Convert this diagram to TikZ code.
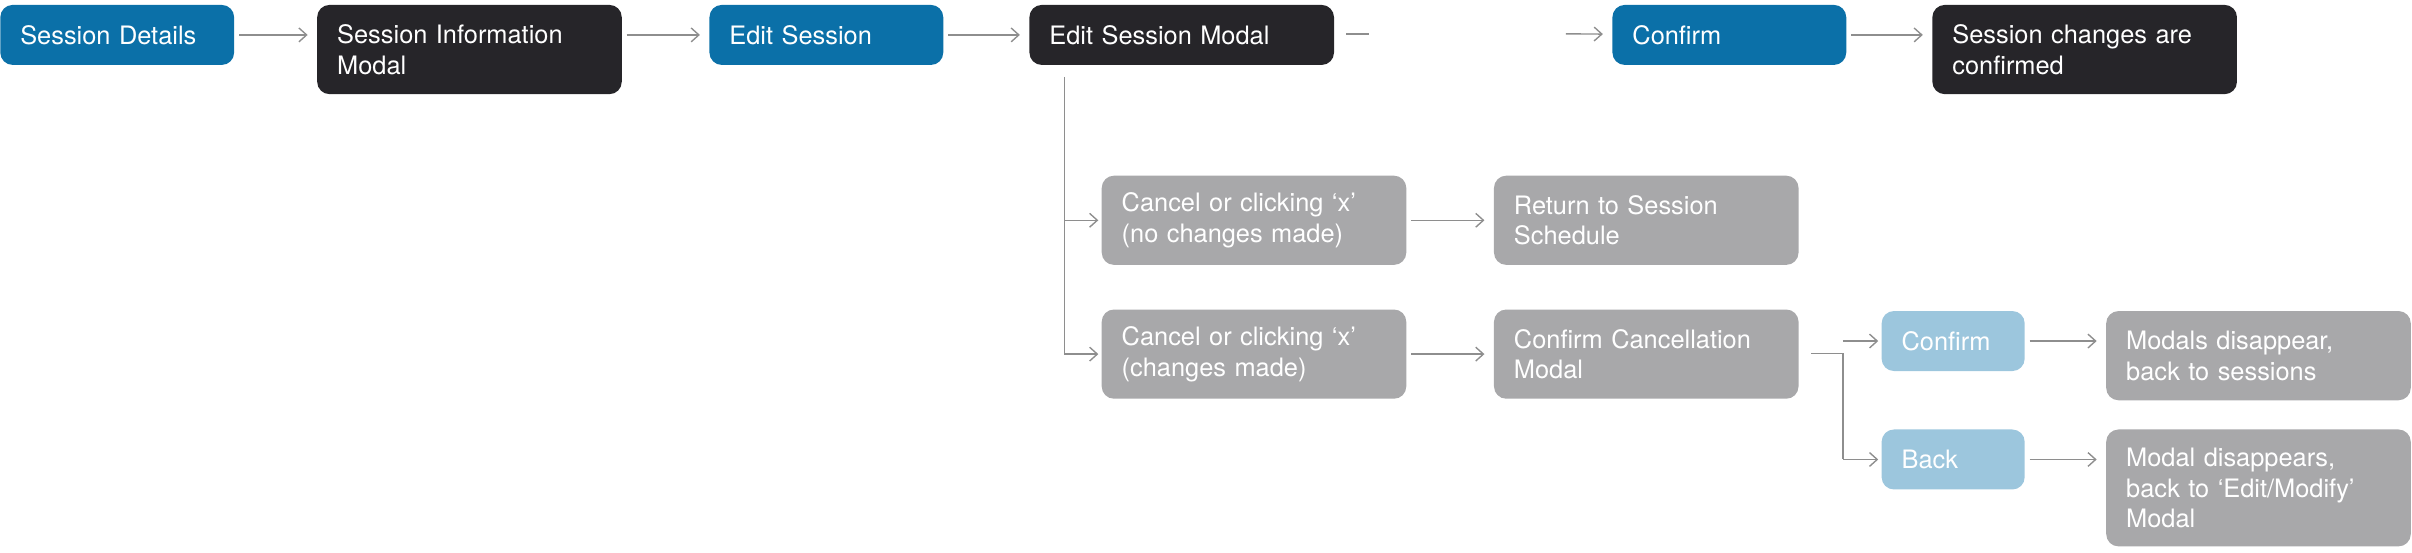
\documentclass[tikz,border=0pt]{standalone}
\usepackage{fontspec}
\setmainfont{TeX Gyre Heros}
\usetikzlibrary{arrows.meta}
\definecolor{sblue}{HTML}{0B70A8}
\definecolor{sdark}{HTML}{262529}
\definecolor{sgrey}{HTML}{A8A8AA}
\definecolor{slight}{HTML}{9CC6DD}
\definecolor{sline}{HTML}{8E8E8E}
\tikzset{
  box/.style={anchor=north west, rounded corners=8pt, text=white, align=left,
    inner xsep=13pt, font=\fontsize{16.5}{20}\selectfont},
  wide/.style={box, minimum width=198pt, text width=172pt},
  narrow/.style={box, minimum width=152pt, text width=126pt},
  tiny/.style={box, minimum width=93pt, text width=67pt},
  flow/.style={draw=sline, line width=0.9pt, -{Straight Barb[length=5pt,width=9pt]},
    shorten <=3pt, shorten >=6pt},
  link/.style={draw=sline, line width=0.9pt},
}
\begin{document}
\begin{tikzpicture}[x=1pt, y=-1pt]
\useasboundingbox (0,0) rectangle (1568,359);

% top row
\node[narrow, fill=sblue, minimum height=39pt] (details) at (0,3) {Session Details};
\node[wide, fill=sdark, minimum height=58pt] (info) at (206,3) {Session Information\\Modal};
\node[narrow, fill=sblue, minimum height=39pt] (edit) at (461,3) {Edit Session};
\node[wide, fill=sdark, minimum height=39pt] (modal) at (669,3) {Edit Session Modal};
\node[narrow, fill=sblue, minimum height=39pt] (confirm) at (1048,3) {Confirm};
\node[wide, fill=sdark, minimum height=58pt] (done) at (1256,3) {Session changes are\\confirmed};

% cancel branches
\node[wide, fill=sgrey, minimum height=58pt] (nochange) at (716,114) {Cancel or clicking ‘x’\\(no changes made)};
\node[wide, fill=sgrey, minimum height=58pt] (back2sched) at (971,114) {Return to Session\\Schedule};
\node[wide, fill=sgrey, minimum height=58pt] (change) at (716,201) {Cancel or clicking ‘x’\\(changes made)};
\node[wide, fill=sgrey, minimum height=58pt] (cancelmodal) at (971,201) {Confirm Cancellation\\Modal};
\node[tiny, fill=slight, minimum height=39pt] (yes) at (1223,202) {Confirm};
\node[tiny, fill=slight, minimum height=39pt] (no) at (1223,279) {Back};
\node[wide, fill=sgrey, minimum height=58pt] (gone) at (1369,202) {Modals disappear,\\back to sessions};
\node[wide, fill=sgrey, minimum height=76pt] (backedit) at (1369,279) {Modal disappears,\\back to ‘Edit/Modify’\\Modal};

% connectors
\draw[flow] (details) -- (info.west |- details);
\draw[flow] (info.east |- details) -- (edit);
\draw[flow] (edit) -- (modal);
\coordinate (dashA) at (875,22);
\coordinate (dashB) at (890,22);
\coordinate (pre) at (1018,22);
\draw[link] (dashA) -- (dashB);
\draw[flow, shorten <=0pt] (pre) -- (confirm);
\draw[flow] (confirm) -- (done.west |- confirm);

\coordinate (trunk) at (692,50);
\draw[link] (trunk) -- (trunk |- change.west);
\draw[flow, shorten <=0pt, shorten >=2pt] (trunk |- nochange.west) -- (nochange);
\draw[flow, shorten <=0pt, shorten >=2pt] (trunk |- change.west) -- (change);
\draw[flow] (nochange) -- (back2sched);
\draw[flow] (change) -- (cancelmodal);

\coordinate (fork) at (1198,230);
\draw[link, shorten <=8pt] (cancelmodal.east |- fork) -- (fork) -- (fork |- no.west);
\draw[flow, shorten <=0pt, shorten >=2pt] (fork |- yes.west) -- (yes);
\draw[flow, shorten <=0pt, shorten >=2pt] (fork |- no.west) -- (no);
\draw[flow] (yes) -- (gone.west |- yes);
\draw[flow] (no) -- (backedit.west |- no);
\end{tikzpicture}
\end{document}
